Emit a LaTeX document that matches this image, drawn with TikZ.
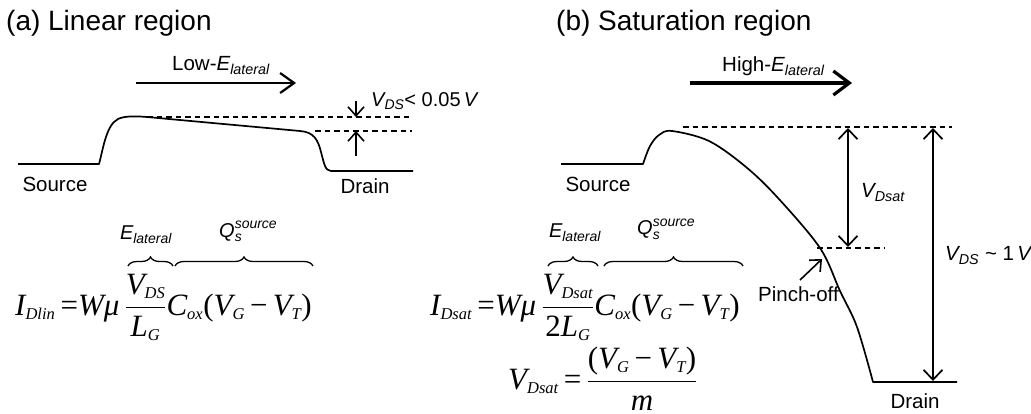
\documentclass[tikz,border=0pt]{standalone}
\usepackage{fix-cm}
\usepackage{amsmath}
\usepackage{fontspec}
\setmainfont{Liberation Sans}
\newfontfamily\tnr{Liberation Serif}
\DeclareMathSizes{31}{31}{16.5}{12}
\usetikzlibrary{arrows.meta,decorations.pathreplacing}
\newcommand{\mti}[1]{\text{\tnr\itshape #1}}
\newcommand{\mtr}[1]{\text{\tnr #1}}
\newcommand{\sit}[1]{\text{\itshape #1}}
\begin{document}
\begin{tikzpicture}[x=1pt,y=-1pt,
  curve/.style={line width=1.7pt, line join=round},
  dashln/.style={line width=1.3pt, dash pattern=on 5.5pt off 4pt},
  sarr/.style={line width=1.6pt, -{Straight Barb[length=9pt,width=16pt,line width=1.6pt]}},
  dvarr/.style={line width=1.7pt, {Straight Barb[length=10pt,width=19pt,line width=1.7pt]}-{Straight Barb[length=10pt,width=19pt,line width=1.7pt]}},
  earr/.style={line width=2.2pt, -{Straight Barb[length=14pt,width=20pt,line width=2.2pt]}},
  earrb/.style={line width=3.8pt, -{Straight Barb[length=16pt,width=24pt,line width=3.2pt]}},
  brc/.style={line width=1.3pt, decorate, decoration={brace, amplitude=9pt}},
  title/.style={inner sep=0pt, anchor=base west, font=\fontsize{28}{33}\selectfont},
  lbl/.style={inner sep=0pt, font=\fontsize{20.5}{24}\selectfont},
  frm/.style={inner sep=0pt, anchor=base west, font=\fontsize{31}{37}\selectfont},
]
\useasboundingbox (0,0) rectangle (1031,414);

% ---------- (a) ----------
\node[title] (ta) at (6,31) {(a) Linear region};
\node[lbl, anchor=base west] (lowE) at (172,71) {Low-$\sit{E}_{\sit{lateral}}$};
\coordinate (lowEs) at (136,83);
\coordinate (lowEe) at (296,83);
\draw[earr] (lowEs) -- (lowEe);

\draw[curve] (18,164) -- (99,164) .. controls (103,150) and (106,125) .. (118,119)
  .. controls (124,116) and (135,116) .. (147,117) -- (300,131)
  .. controls (314,132) and (318,140) .. (321,152)
  .. controls (324,163) and (325,171) .. (331,171) -- (413,171);

\coordinate (da1) at (147,117); \coordinate (da2) at (412,117);
\coordinate (db1) at (315,131); \coordinate (db2) at (412,131);
\draw[dashln] (da1) -- (da2);
\draw[dashln] (db1) -- (db2);
\coordinate (ad1) at (356,101); \coordinate (ad2) at (356,117);
\coordinate (au1) at (356,156); \coordinate (au2) at (356,131);
\draw[sarr] (ad1) -- (ad2);
\draw[sarr] (au1) -- (au2);
\node[lbl, anchor=base west, font=\fontsize{20}{24}\selectfont] (vdsa) at (371,107) {$\sit{V}_{\sit{DS}}$< 0.05\,\textit{V}};

\node[lbl, anchor=base] (srca) at (55,192) {Source};
\node[lbl, anchor=base] (dra) at (365,194) {Drain};

\draw[brc] (128,266) -- (173,266);
\draw[brc] (175,266) -- (313,266);
\node[lbl, anchor=base, font=\fontsize{20}{24}\selectfont] (ela) at (146,240) {$\sit{E}_{\sit{lateral}}$};
\node[lbl, anchor=base west, font=\fontsize{20}{24}\selectfont] (qa) at (219,237) {$\sit{Q}_{\sit{s}}^{\sit{source}}$};

\node[frm] (f1) at (15,315) {$\mti{I}_{\mti{Dlin}}\,\mtr{=}\mti{W}\mti{μ}\,\dfrac{\mti{V}_{\mti{DS}}}{\mti{L}_{\mti{G}}}\mti{C}_{\mti{ox}}\mtr{(}\mti{V}_{\mti{G}}\,\mtr{−}\,\mti{V}_{\mti{T}}\mtr{)}$};

% ---------- (b) ----------
\node[title] (tb) at (556,31) {(b) Saturation region};
\node[lbl, anchor=base west] (highE) at (722,72) {High-$\sit{E}_{\sit{lateral}}$};
\coordinate (hiEs) at (690,83);
\coordinate (hiEe) at (852,83);
\draw[earrb] (hiEs) -- (hiEe);

\draw[curve] (561,164) -- plot[smooth, tension=0.55] coordinates {(643,164) (650,146) (659,135) (672,131) (709,141) (746,167) (778,198) (820,248) (840,291) (857,327) (873,382)} -- (957,382);

\coordinate (dt1) at (683,127); \coordinate (dt2) at (952,127);
\draw[dashln] (dt1) -- (dt2);
\coordinate (dp1) at (817,248); \coordinate (dp2) at (885,248);
\draw[dashln] (dp1) -- (dp2);

\coordinate (vs1) at (848,128); \coordinate (vs2) at (848,247);
\draw[dvarr] (vs1) -- (vs2);
\coordinate (vd1) at (933,128); \coordinate (vd2) at (933,381);
\draw[dvarr] (vd1) -- (vd2);
\node[lbl, anchor=base west] (vdsat) at (861,198) {$\sit{V}_{\sit{Dsat}}$};
\node[lbl, anchor=base west] (vds1) at (945,261) {$\sit{V}_{\sit{DS}}$ \textasciitilde\ 1\,\textit{V}};

\node[lbl, anchor=base west] (pinch) at (758,301) {Pinch-off};
\coordinate (pa1) at (800,280); \coordinate (pa2) at (822,259);
\draw[sarr] (pa1) -- (pa2);

\node[lbl, anchor=base] (srcb) at (598,192) {Source};
\node[lbl, anchor=base] (drb) at (915,408) {Drain};

\draw[brc] (548,266) -- (598,266);
\draw[brc] (604,266) -- (743,266);
\node[lbl, anchor=base, font=\fontsize{20}{24}\selectfont] (elb) at (575,238) {$\sit{E}_{\sit{lateral}}$};
\node[lbl, anchor=base west, font=\fontsize{20}{24}\selectfont] (qb) at (637,235) {$\sit{Q}_{\sit{s}}^{\sit{source}}$};

\node[frm] (f2) at (430,315) {$\mti{I}_{\mti{Dsat}}\,\mtr{=}\mti{W}\mti{μ}\,\dfrac{\mti{V}_{\mti{Dsat}}}{\mtr{2}\mti{L}_{\mti{G}}}\mti{C}_{\mti{ox}}\mtr{(}\mti{V}_{\mti{G}}\,\mtr{−}\,\mti{V}_{\mti{T}}\mtr{)}$};
\node[frm] (f3) at (508,389) {$\mti{V}_{\mti{Dsat}}\,\mtr{=}\,\dfrac{\mtr{(}\mti{V}_{\mti{G}}\,\mtr{−}\,\mti{V}_{\mti{T}}\mtr{)}}{\mti{m}}$};
\end{tikzpicture}
\end{document}
